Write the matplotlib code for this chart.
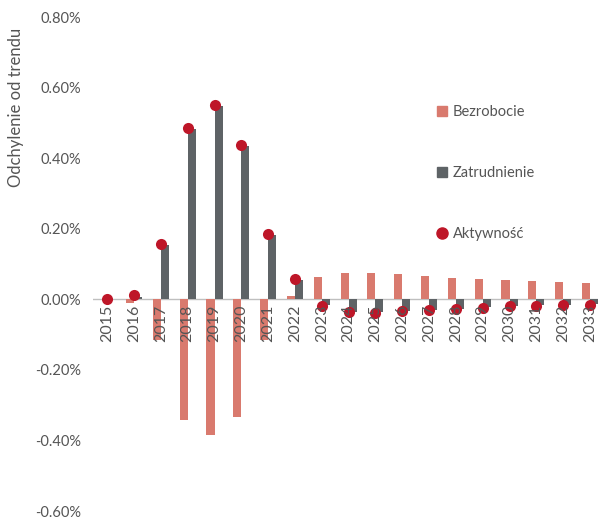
import numpy as np
import matplotlib.pyplot as plt
from matplotlib.patches import Patch
from matplotlib.lines import Line2D

years = [str(y) for y in range(2015, 2034)]

# deviation from trend, in percent
bezrobocie = [0.0, -0.01, -0.115, -0.343, -0.385, -0.332, -0.115, 0.01,
              0.063, 0.075, 0.075, 0.072, 0.066, 0.062, 0.058, 0.054,
              0.052, 0.049, 0.046]
zatrudnienie = [0.0, 0.008, 0.153, 0.483, 0.548, 0.435, 0.182, 0.054,
                -0.016, -0.035, -0.036, -0.034, -0.030, -0.027, -0.022,
                -0.019, -0.017, -0.015, -0.013]
aktywnosc = [0.0, 0.013, 0.156, 0.486, 0.551, 0.437, 0.185, 0.057,
             -0.018, -0.037, -0.039, -0.033, -0.030, -0.026, -0.023,
             -0.020, -0.019, -0.017, -0.015]

SALMON = "#D97A6E"
GREY = "#5E6366"
RED = "#BE1628"
TEXT = "#555555"

plt.rcParams["font.family"] = ["Lato", "DejaVu Sans"]

fig = plt.figure(figsize=(5.98, 5.21), dpi=100)
ax = fig.add_axes([0.156, 0.019, 0.844, 0.948])

x = np.arange(len(years))
w = 0.3
ax.bar(x - w / 2, bezrobocie, width=w, color=SALMON, zorder=2)
ax.bar(x + w / 2, zatrudnienie, width=w, color=GREY, zorder=2)
ax.scatter(x, aktywnosc, s=64, color=RED, zorder=3, linewidths=0)

ax.axhline(0, color="#BFBFBF", lw=1, zorder=1)

ax.set_ylim(-0.6, 0.8)
ax.set_xlim(-0.52, 18.3)
ticks = np.arange(-0.6, 0.81, 0.2)
ax.set_yticks(ticks)
ax.set_yticklabels([f"{t:.2f}%" for t in ticks], color=TEXT, fontsize=10.5)
ax.tick_params(axis="y", length=0, pad=9)
ax.set_xticks([])

for xi, lab in zip(x, years):
    ax.text(xi, -0.015, lab, rotation=90, ha="center", va="top",
            fontsize=11.5, color=TEXT, zorder=4)

for s in ax.spines.values():
    s.set_visible(False)

fig.text(0.027, 1 - 107 / 521, "Odchylenie od trendu", rotation=90,
         ha="center", va="center", fontsize=12, color=TEXT)

handles = [
    Patch(color=SALMON, label="Bezrobocie"),
    Patch(color=GREY, label="Zatrudnienie"),
    Line2D([], [], marker="o", color=RED, lw=0, markersize=8, label="Aktywność"),
]
leg = ax.legend(handles=handles, loc="upper left", bbox_to_anchor=(0.655, 0.848),
                frameon=False, fontsize=10.5, labelspacing=3.2,
                handlelength=0.7, handleheight=0.7, handletextpad=0.4)
for t in leg.get_texts():
    t.set_color(TEXT)

fig.savefig("out.png", dpi=100)
